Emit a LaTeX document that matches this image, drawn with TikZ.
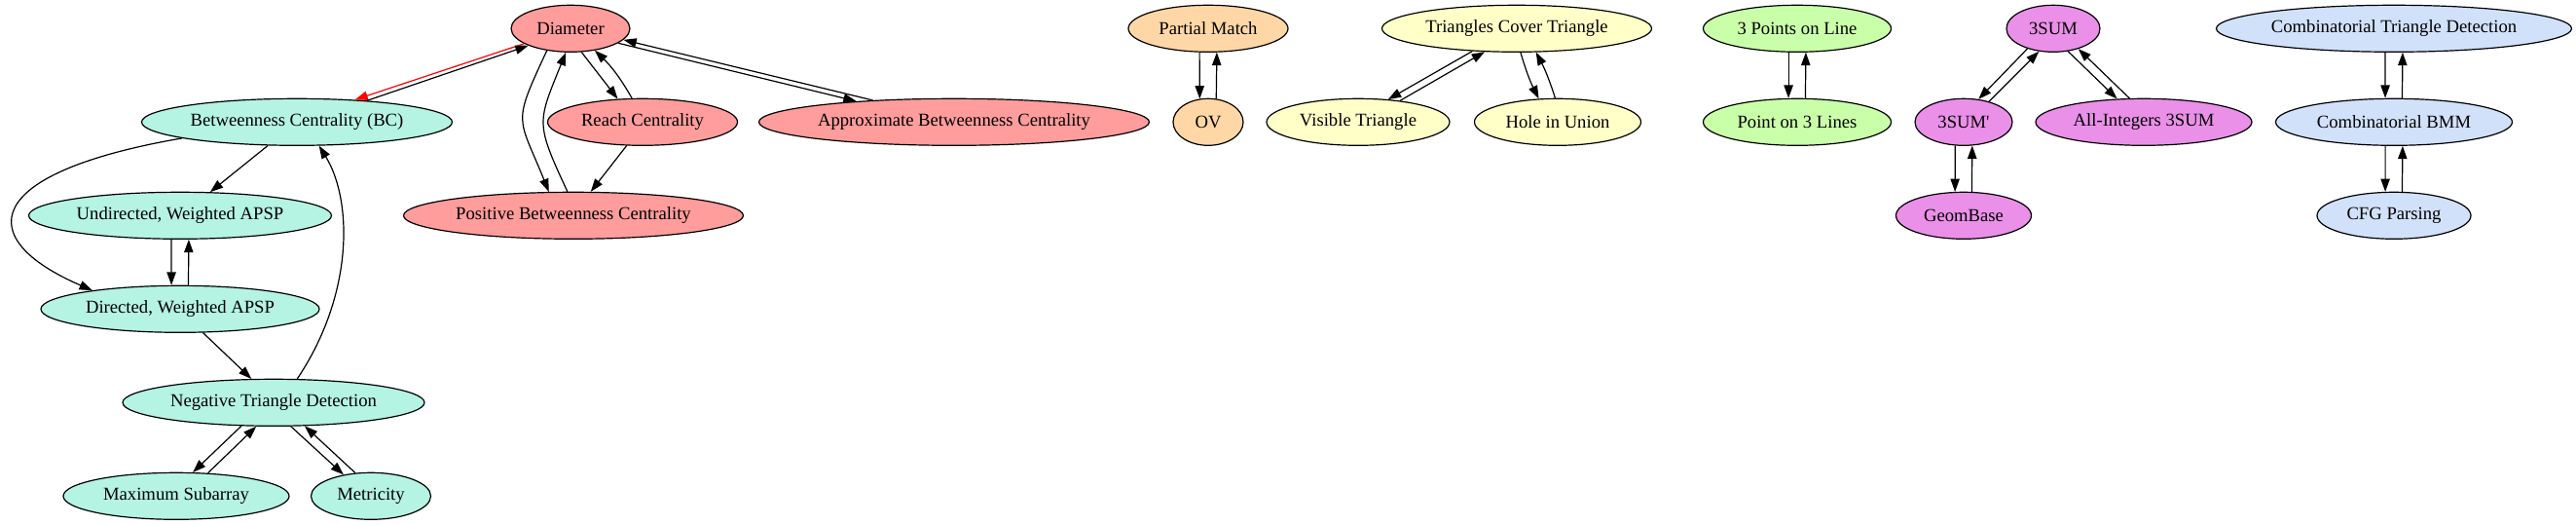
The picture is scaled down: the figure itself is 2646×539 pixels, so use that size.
\documentclass[tikz,border=0pt]{standalone}
\usepackage{fontspec}
\setmainfont{Liberation Serif}
\usetikzlibrary{arrows.meta,shapes.geometric}
\definecolor{redFill}   {HTML}{FF9C9C}
\definecolor{tealFill}  {HTML}{B5F3E2}
\definecolor{orangeFill}{HTML}{FFD7A6}
\definecolor{yellowFill}{HTML}{FFFFC8}
\definecolor{greenFill} {HTML}{CAFFAA}
\definecolor{violetFill}{HTML}{EA90E8}
\definecolor{blueFill}  {HTML}{D2E1FA}

\begin{document}
\begin{tikzpicture}[
  x=0.75pt, y=-0.75pt,
  n/.style={ellipse, draw=black, line width=0.9pt, inner sep=0pt, minimum height=36pt,
            font=\fontsize{14}{16}\selectfont},
  wd/.style={minimum width=#1pt},
  redn/.style={n, fill=redFill},
  tealn/.style={n, fill=tealFill},
  orangen/.style={n, fill=orangeFill},
  yellown/.style={n, fill=yellowFill},
  greenn/.style={n, fill=greenFill},
  violetn/.style={n, fill=violetFill},
  bluen/.style={n, fill=blueFill},
  e/.style={draw, line width=0.9pt, -{Triangle[length=10pt,width=7pt]}}
]
\useasboundingbox (0,0) rectangle (2646,539);
% centrality / APSP group
\node[redn, wd=91.5] (dia) at (586,29.3) {Diameter};
\node[tealn, wd=239.25] (bc) at (305,125.3) {Betweenness Centrality (BC)};
\node[redn, wd=146.25] (reach) at (660,125.3) {Reach Centrality};
\node[redn, wd=300.75] (appr) at (980,125.3) {Approximate Betweenness Centrality};
\node[tealn, wd=233.25] (und) at (185,221.3) {Undirected, Weighted APSP};
\node[redn, wd=261.75] (pos) at (589,221.3) {Positive Betweenness Centrality};
\node[tealn, wd=214.5] (dir) at (185,317.3) {Directed, Weighted APSP};
\node[tealn, wd=232.5] (neg) at (281,413.3) {Negative Triangle Detection};
\node[tealn, wd=174] (maxs) at (181,509.3) {Maximum Subarray};
\node[tealn, wd=92.25] (metr) at (381,509.3) {Metricity};
% OV group
\node[orangen, wd=123] (pm) at (1241,29.3) {Partial Match};
\node[orangen, wd=54] (ov) at (1241,125.3) {OV};
% triangle geometry group
\node[yellown, wd=207.75] (tct) at (1558,29.3) {Triangles Cover Triangle};
\node[yellown, wd=141] (vis) at (1395,125.3) {Visible Triangle};
\node[yellown, wd=128.25] (hole) at (1600,125.3) {Hole in Union};
\node[greenn, wd=144.75] (tpl) at (1846,29.3) {3 Points on Line};
\node[greenn, wd=144.75] (pol) at (1846,125.3) {Point on 3 Lines};
% 3SUM group
\node[violetn, wd=72] (sum) at (2109,29.3) {3SUM};
\node[violetn, wd=75] (sump) at (2017,125.3) {3SUM\textquotesingle};
\node[violetn, wd=166.5] (allint) at (2202,125.3) {All-Integers 3SUM};
\node[violetn, wd=104.25] (geom) at (2017,221.3) {GeomBase};
% BMM group
\node[bluen, wd=273.75] (ctd) at (2459,29.3) {Combinatorial Triangle Detection};
\node[bluen, wd=182.25] (bmm) at (2459,125.3) {Combinatorial BMM};
\node[bluen, wd=118.5] (cfg) at (2459,221.3) {CFG Parsing};

\draw[e, red] (dia.198) -- (bc.21.5);
\draw[e] (bc.17.7) -- (dia.202);
\draw[e] (dia.-65) -- (reach.137);
\draw[e] (reach.114) to[bend right=8] (dia.-42);
\draw[e] (dia.223) to[out=-115, in=112, looseness=1.5] (pos.136);
\draw[e] (pos.104) to[out=115, in=-112, looseness=1.4] (dia.259);
\draw[e] (dia.-17) -- (appr.168);
\draw[e] (appr.165) -- (dia.-12);
\draw[e] (reach.-124.5) -- (pos.54.6);
\draw[e] (bc.219.5) -- (und.38);
\draw[e] (bc.188) .. controls +(-208,36) and +(-123,-53) .. (dir.168);
\draw[e] (dir.-46) -- (neg.133.5);
\draw[e] (neg.45) .. controls +(59,-88) and +(34,55) .. (bc.-47);
\draw[e] (neg.216.5) -- (maxs.55);
\draw[e] (maxs.36) -- (neg.234.7);
\draw[e] (neg.-54.7) -- (metr.142.4);
\draw[e] (metr.124.5) -- (neg.-37.7);
\draw[e] (tct.207) -- (vis.37.6);
\draw[e] (vis.27.2) -- (tct.216.9);
\draw[e] (tct.-81) to[bend right=5] (hole.129.7);
\draw[e] (hole.96) to[bend right=5] (tct.-51.3);
\draw[e] (sum.218) -- (sump.57);
\draw[e] (sump.39) -- (sum.238.5);
\draw[e] (sum.-57.3) -- (allint.139.6);
\draw[e] (allint.121) -- (sum.-39);
\foreach \a/\b in {und/dir,pm/ov,tpl/pol,sump/geom,ctd/bmm,bmm/cfg}{
  \draw[e] (\a.250) -- (\b.110);
  \draw[e] (\b.71) -- (\a.-70);
}
\end{tikzpicture}
\end{document}
